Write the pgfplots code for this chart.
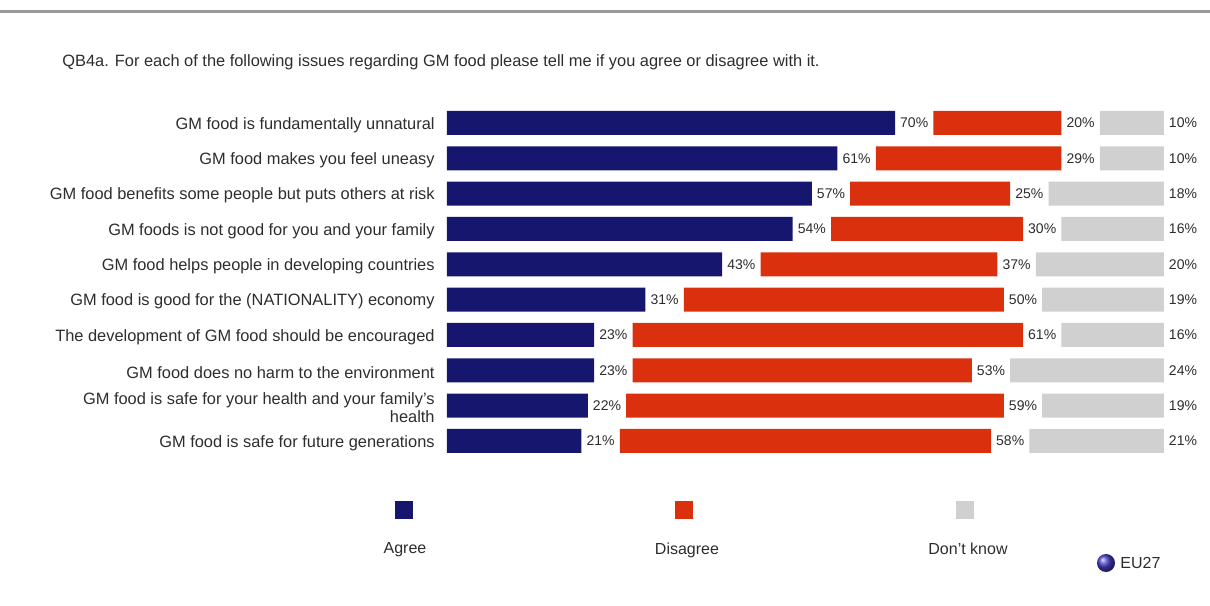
\documentclass[border=0pt]{standalone}
\usepackage{pgfplots}
\pgfplotsset{compat=1.18}
\usepackage{fontspec}
\setmainfont{Liberation Sans}
\definecolor{agree}{RGB}{22,22,110}
\definecolor{disagree}{RGB}{218,48,14}
\definecolor{dk}{RGB}{208,208,208}
\definecolor{txt}{RGB}{45,45,45}
\definecolor{eu}{RGB}{70,60,200}
\begin{document}
\begin{tikzpicture}[x=0.5pt,y=0.5pt]
\path[use as bounding box] (0,0) rectangle (1210,605);
\draw[line width=1.5pt, color=black!40] (0,593) -- (1210,593);
\node[anchor=west, inner sep=0pt, font=\fontsize{8.2}{9.8}\selectfont, text=txt] at (62,543) {QB4a. For each of the following issues regarding GM food please tell me if you agree or disagree with it.};
\begin{axis}[
  at={(223.5pt,73.17pt)}, anchor=south west,
  scale only axis, width=377.6pt, height=176.67pt,
  xbar stacked, bar width=12pt,
  xmin=0, xmax=118, ymin=-0.5, ymax=9.5, y dir=reverse,
  axis line style={draw=none},
  xtick=\empty, ytick={0,...,9}, major tick length=0pt,
  yticklabels={GM food is fundamentally unnatural,
    GM food makes you feel uneasy,
    GM food benefits some people but puts others at risk,
    GM foods is not good for you and your family,
    GM food helps people in developing countries,
    GM food is good for the (NATIONALITY) economy,
    The development of GM food should be encouraged,
    GM food does no harm to the environment,
    {GM food is safe for your health and your family's\\health},
    GM food is safe for future generations},
  yticklabel style={font=\fontsize{8.2}{9.4}\selectfont, text=txt, align=right, inner sep=0pt, xshift=-6pt, yshift=-1pt},
  clip=false,
  lbl/.style={point meta=explicit symbolic, nodes near coords={\pgfplotspointmeta\%},
    every node near coord/.append style={font=\fontsize{7}{8}\selectfont, text=txt, anchor=center, inner sep=0pt}},
]
\addplot[fill=agree, draw=none] coordinates {
 (70,0) (61,1) (57,2) (54,3) (43,4)
 (31,5) (23,6) (23,7) (22,8) (21,9)};
\addplot[fill=none, draw=none, forget plot, lbl] coordinates {
 (6,0)[70] (6,1)[61] (6,2)[57] (6,3)[54] (6,4)[43]
 (6,5)[31] (6,6)[23] (6,7)[23] (6,8)[22] (6,9)[21]};
\addplot[fill=disagree, draw=none] coordinates {
 (20,0) (29,1) (25,2) (30,3) (37,4)
 (50,5) (61,6) (53,7) (59,8) (58,9)};
\addplot[fill=none, draw=none, forget plot, lbl] coordinates {
 (6,0)[20] (6,1)[29] (6,2)[25] (6,3)[30] (6,4)[37]
 (6,5)[50] (6,6)[61] (6,7)[53] (6,8)[59] (6,9)[58]};
\addplot[fill=dk, draw=none] coordinates {
 (10,0) (10,1) (18,2) (16,3) (20,4)
 (19,5) (16,6) (24,7) (19,8) (21,9)};
\addplot[fill=none, draw=none, forget plot, lbl] coordinates {
 (6,0)[10] (6,1)[10] (6,2)[18] (6,3)[16] (6,4)[20]
 (6,5)[19] (6,6)[16] (6,7)[24] (6,8)[19] (6,9)[21]};
\end{axis}
\fill[agree] (395,86) rectangle (413,104);
\node[font=\fontsize{8}{9.6}\selectfont, text=txt] at (405,55) {Agree};
\fill[disagree] (675,86) rectangle (693,104);
\node[font=\fontsize{8}{9.6}\selectfont, text=txt] at (687,55) {Disagree};
\fill[dk] (956,86) rectangle (974,104);
\node[font=\fontsize{8}{9.6}\selectfont, text=txt] at (968,56) {Don't know};
\shade[ball color=eu] (1106,42) circle (9);
\node[anchor=west, font=\fontsize{8}{9.6}\selectfont, text=txt, inner sep=0pt] at (1120,42) {EU27};
\end{tikzpicture}
\end{document}
